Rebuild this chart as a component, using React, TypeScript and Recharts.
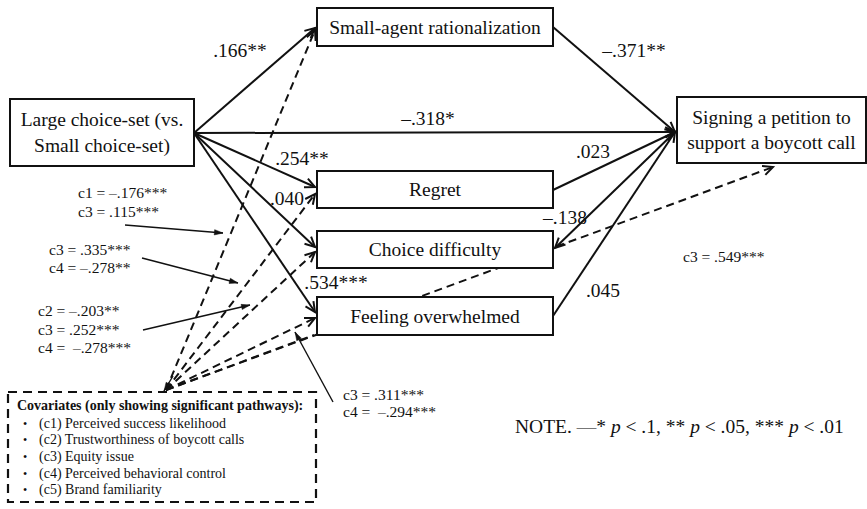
import React from 'react';
import { ScatterChart, Scatter, XAxis, YAxis, ReferenceArea, ReferenceLine } from 'recharts';

const W = 867;
const H = 509;
const FONT = "'Liberation Serif', 'Times New Roman', serif";

// node labels
const predictorLabel = ['Large choice-set (vs.', 'Small choice-set)'];
const mediatorLabels = ['Small-agent rationalization', 'Regret', 'Choice difficulty', 'Feeling overwhelmed'];
const outcomeLabel = ['Signing a petition to', 'support a boycott call'];

// path coefficients
const aPaths = ['.166**', '.254**', '.040', '.534***'];
const bPaths = ['\u2013.371**', '.023', '\u2013.138', '.045'];
const directPath = '\u2013.318*';

// covariate effects written next to the paths
const covEffects = [
  ['c1 = \u2013.176***', 'c3 = .115***'],
  ['c3 = .335***', 'c4 = \u2013.278**'],
  ['c2 = \u2013.203**', 'c3 = .252***', 'c4 =\u00a0 \u2013.278***'],
  ['c3 = .311***', 'c4 =\u00a0 \u2013.294***'],
  ['c3 = .549***'],
];
const covTitle = 'Covariates (only showing significant pathways):';
const covNames = [
  '(c1) Perceived success likelihood',
  '(c2) Trustworthiness of boycott calls',
  '(c3) Equity issue',
  '(c4) Perceived behavioral control',
  '(c5) Brand familiarity',
];

// layout (diagram units = pixels of the figure)
const predictorBox = { x1: 10, x2: 194, y1: 99, y2: 166 };
const mediatorX = [317, 553];
const mediatorRows = [[8, 46], [171, 208], [231, 268], [297, 335]];
const outcomeBox = { x1: 677, x2: 866, y1: 97, y2: 163 };
const covBox = { x1: 8, x2: 316, y1: 392, y2: 502 };
const origin = { x: 194, y: 133 };
const hub = { x: 675, y: 132 };
const apex = { x: 166, y: 390 };
const aTargets = [28, 187, 247, 312];
const bSources = [27, 190, 248, 316];
const dashTargets = [
  { x: 315, y: 30, head: true },
  { x: 315, y: 194, head: true },
  { x: 315, y: 252, head: true },
  { x: 315, y: 318, head: true },
  { x: 314, y: 335, head: false },
  { x: 773, y: 167, head: true },
];
const covArrows = [
  [{ x: 125, y: 225 }, { x: 223, y: 233 }],
  [{ x: 142, y: 258 }, { x: 238, y: 283 }],
  [{ x: 143, y: 330 }, { x: 250, y: 305 }],
  [{ x: 333, y: 402 }, { x: 295, y: 332 }],
  [{ x: 173, y: 376 }, { x: 164, y: 391 }],
];
const aLabelPos = [[240, 57], [302, 165], [287, 205], [336, 289]];
const bLabelPos = [[634, 57], [593, 158], [565, 224], [603, 297]];
const directLabelPos = [428, 125];
const covEffectPos = [[78, 198, 18.5], [49, 255, 18], [38, 316, 18.5], [343, 400, 17], [683, 262, 0]];

type Pt = { x: number; y: number };

const serif = { fontFamily: FONT };

const headPath = (x1: number, y1: number, x2: number, y2: number, len: number, ang: number) => {
  const a = Math.atan2(y2 - y1, x2 - x1);
  const l = { x: x2 - len * Math.cos(a - ang), y: y2 - len * Math.sin(a - ang) };
  const r = { x: x2 - len * Math.cos(a + ang), y: y2 - len * Math.sin(a + ang) };
  return { l, r };
};

const edgeShape = (kind: 'solid' | 'dashed' | 'thin', head: 'open' | 'filled' | 'none') => (p: any) => {
  const { x1, y1, x2, y2 } = p;
  const sw = kind === 'thin' ? 1.4 : 2;
  const dash = kind === 'dashed' ? '8 5' : undefined;
  let h: React.ReactNode = null;
  if (head === 'open') {
    const { l, r } = headPath(x1, y1, x2, y2, 11, 0.45);
    h = <polyline points={`${l.x},${l.y} ${x2},${y2} ${r.x},${r.y}`} fill="none" stroke="#111" strokeWidth={2} />;
  } else if (head === 'filled') {
    const { l, r } = headPath(x1, y1, x2, y2, 9, 0.3);
    h = <polygon points={`${l.x},${l.y} ${x2},${y2} ${r.x},${r.y}`} fill="#111" stroke="#111" strokeWidth={0.5} />;
  }
  return (
    <g>
      <line x1={x1} y1={y1} x2={x2} y2={y2} stroke="#111" strokeWidth={sw} strokeDasharray={dash} />
      {h}
    </g>
  );
};

const boxShape = (lines: string[], size: number) => (p: any) => {
  const { x, y, width, height } = p;
  const lh = size * 1.3;
  const top = y + height / 2 - ((lines.length - 1) * lh) / 2 + size * 0.34;
  return (
    <g>
      <rect x={x} y={y} width={width} height={height} fill="#fff" stroke="#111" strokeWidth={2} />
      <text textAnchor="middle" style={{ ...serif, fontSize: size }} fill="#111">
        {lines.map((t, i) => (
          <tspan key={i} x={x + width / 2} y={top + i * lh}>{t}</tspan>
        ))}
      </text>
    </g>
  );
};

const covShape = (p: any) => {
  const { x, y, width, height } = p;
  return (
    <g>
      <rect x={x} y={y} width={width} height={height} fill="#fff" stroke="#111" strokeWidth={2.2} strokeDasharray="9 6" />
      <text x={x + 9} y={y + 18} style={{ ...serif, fontSize: 14, fontWeight: 'bold' }} fill="#111">{covTitle}</text>
      {covNames.map((t, i) => (
        <g key={t}>
          <text x={x + 15} y={y + 35.5 + i * 16.7} style={{ ...serif, fontSize: 12 }} fill="#111">{'\u2022'}</text>
          <text x={x + 31} y={y + 35.5 + i * 16.7} style={{ ...serif, fontSize: 14 }} fill="#111">{t}</text>
        </g>
      ))}
    </g>
  );
};

type Lbl = { x: number; y: number; lines: string[]; size: number; anchor: string; gap: number };

const labels: Lbl[] = [
  ...aPaths.map((t, i) => ({ x: aLabelPos[i][0], y: aLabelPos[i][1], lines: [t], size: 19.5, anchor: 'middle', gap: 0 })),
  ...bPaths.map((t, i) => ({ x: bLabelPos[i][0], y: bLabelPos[i][1], lines: [t], size: 19.5, anchor: 'middle', gap: 0 })),
  { x: directLabelPos[0], y: directLabelPos[1], lines: [directPath], size: 19.5, anchor: 'middle', gap: 0 },
  ...covEffects.map((ls, i) => ({ x: covEffectPos[i][0], y: covEffectPos[i][1], lines: ls, size: 15.5, anchor: 'start', gap: covEffectPos[i][2] })),
];

const LabelShape = (p: any) => {
  const d: Lbl = p.payload;
  const { cx, cy } = p;
  return (
    <text textAnchor={d.anchor as any} style={{ ...serif, fontSize: d.size }} fill="#111">
      {d.lines.map((t, i) => (
        <tspan key={i} x={cx} y={cy + i * d.gap}>{t}</tspan>
      ))}
    </text>
  );
};

const NoteShape = (p: any) => {
  const { cx, cy } = p;
  const it = { fontStyle: 'italic' as const };
  return (
    <text x={cx} y={cy} style={{ ...serif, fontSize: 19.5 }} fill="#111">
      NOTE. <tspan fill="#777">{'\u2014'}</tspan>* <tspan style={it}>p</tspan> {'< .1, ** '}<tspan style={it}>p</tspan>{' < .05, *** '}<tspan style={it}>p</tspan>{' < .01'}
    </text>
  );
};

const noteData = [{ x: 515, y: 433 }];

const seg = (a: Pt, b: Pt) => [a, b] as any;

export default function App() {
  return (
    <div style={{ width: W, height: H, background: '#fff', fontFamily: FONT }}>
      <style>{'body{margin:0}'}</style>
      <ScatterChart width={W} height={H} margin={{ top: 0, right: 0, bottom: 0, left: 0 }}>
        <XAxis type="number" dataKey="x" domain={[0, W]} hide allowDataOverflow />
        <YAxis type="number" dataKey="y" domain={[0, H]} reversed hide allowDataOverflow />

        {/* covariate dashed paths (behind boxes) */}
        {dashTargets.map((t, i) => (
          <ReferenceLine key={`d${i}`} segment={seg(apex, t)} ifOverflow="visible" zIndex={300}
            shape={edgeShape('dashed', t.head ? 'open' : 'none')} />
        ))}
        {/* predictor -> mediators */}
        {aTargets.map((ty, i) => (
          <ReferenceLine key={`a${i}`} segment={seg(origin, { x: 315, y: ty })} ifOverflow="visible" zIndex={310}
            shape={edgeShape('solid', 'open')} />
        ))}
        {/* mediators -> outcome */}
        {bSources.map((sy, i) => (
          <ReferenceLine key={`b${i}`}
            segment={i === 2 ? seg(hub, { x: 555, y: sy }) : seg({ x: 553, y: sy }, hub)}
            ifOverflow="visible" zIndex={310} shape={edgeShape('solid', 'open')} />
        ))}
        <ReferenceLine segment={seg(origin, hub)} ifOverflow="visible" zIndex={310} shape={edgeShape('solid', 'open')} />
        {/* covariate effect pointers */}
        {covArrows.map((s, i) => (
          <ReferenceLine key={`c${i}`} segment={seg(s[0], s[1])} ifOverflow="visible" zIndex={320}
            shape={edgeShape('thin', 'filled')} />
        ))}

        {/* boxes */}
        <ReferenceArea x1={predictorBox.x1} x2={predictorBox.x2} y1={predictorBox.y1} y2={predictorBox.y2}
          ifOverflow="visible" zIndex={450} shape={boxShape(predictorLabel, 19.5)} />
        {mediatorLabels.map((m, i) => (
          <ReferenceArea key={m} x1={mediatorX[0]} x2={mediatorX[1]} y1={mediatorRows[i][0]} y2={mediatorRows[i][1]}
            ifOverflow="visible" zIndex={450} shape={boxShape([m], 19.5)} />
        ))}
        <ReferenceArea x1={outcomeBox.x1} x2={outcomeBox.x2} y1={outcomeBox.y1} y2={outcomeBox.y2}
          ifOverflow="visible" zIndex={450} shape={boxShape(outcomeLabel, 19.5)} />
        <ReferenceArea x1={covBox.x1} x2={covBox.x2} y1={covBox.y1} y2={covBox.y2}
          ifOverflow="visible" zIndex={450} shape={covShape} />

        <Scatter data={labels} shape={LabelShape} isAnimationActive={false} zIndex={600} />
        <Scatter data={noteData} shape={NoteShape} isAnimationActive={false} zIndex={600} />
      </ScatterChart>
    </div>
  );
}
